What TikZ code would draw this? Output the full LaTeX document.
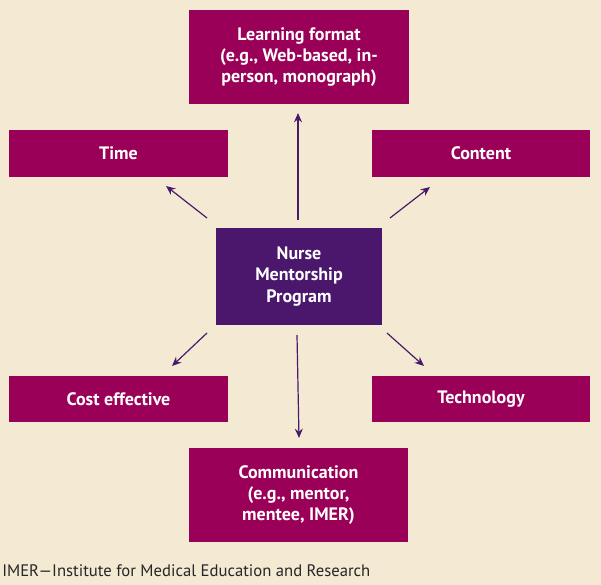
\documentclass[tikz,border=0pt]{standalone}
\usepackage{fontspec}
\setmainfont{PT Sans}
\usetikzlibrary{arrows.meta}
\definecolor{bg}{HTML}{F4EAD3}
\definecolor{mag}{HTML}{9A0058}
\definecolor{purp}{HTML}{4A176C}
\definecolor{arr}{HTML}{4A1A6A}
\tikzset{
  box/.style={fill=mag,text=white,font=\bfseries\fontsize{13.5}{16}\selectfont,align=center,inner sep=0pt},
  cbox/.style={box,fill=purp},
  conn/.style={draw=arr,line width=0.9pt,-{Stealth[length=7pt,width=6pt]}}
}
\begin{document}
\begin{tikzpicture}[x=0.75pt,y=-0.75pt]
\fill[bg] (0,0) rectangle (601,585);
\useasboundingbox (0,0) rectangle (601,585);
\node[box,minimum width=165pt,minimum height=70.5pt] (learn) at (299,57) {Learning format\\(e.g., Web-based, in-\\person, monograph)};
\node[box,minimum width=164pt,minimum height=35pt] (time) at (118.5,153.5) {Time};
\node[box,minimum width=163.5pt,minimum height=35pt] (content) at (481,153.5) {Content};
\node[cbox,minimum width=124.5pt,minimum height=72.75pt] (center) at (299,276.5) {Nurse\\Mentorship\\Program};
\node[box,minimum width=164pt,minimum height=34.5pt] (cost) at (118.5,399) {Cost effective};
\node[box,minimum width=163.5pt,minimum height=34.5pt] (tech) at (481,399) {Technology};
\node[box,minimum width=164pt,minimum height=70.5pt] (comm) at (298.5,495) {Communication\\(e.g., mentor,\\mentee, IMER)};
\node[anchor=west,inner sep=0pt,font=\fontsize{12.5}{14}\selectfont,text=black!85] (cap) at (2,571) {IMER—Institute for Medical Education and Research};
\coordinate (a1) at (298,220); \coordinate (b1) at (298,113);
\coordinate (a2) at (207,218); \coordinate (b2) at (166,186);
\coordinate (a3) at (390,218); \coordinate (b3) at (430,187);
\coordinate (a4) at (207,333); \coordinate (b4) at (172,366);
\coordinate (a5) at (387,333); \coordinate (b5) at (424,366);
\coordinate (a6) at (297,335); \coordinate (b6) at (299,438);
\foreach \i in {1,...,6} \draw[conn] (a\i) -- (b\i);
\end{tikzpicture}
\end{document}
